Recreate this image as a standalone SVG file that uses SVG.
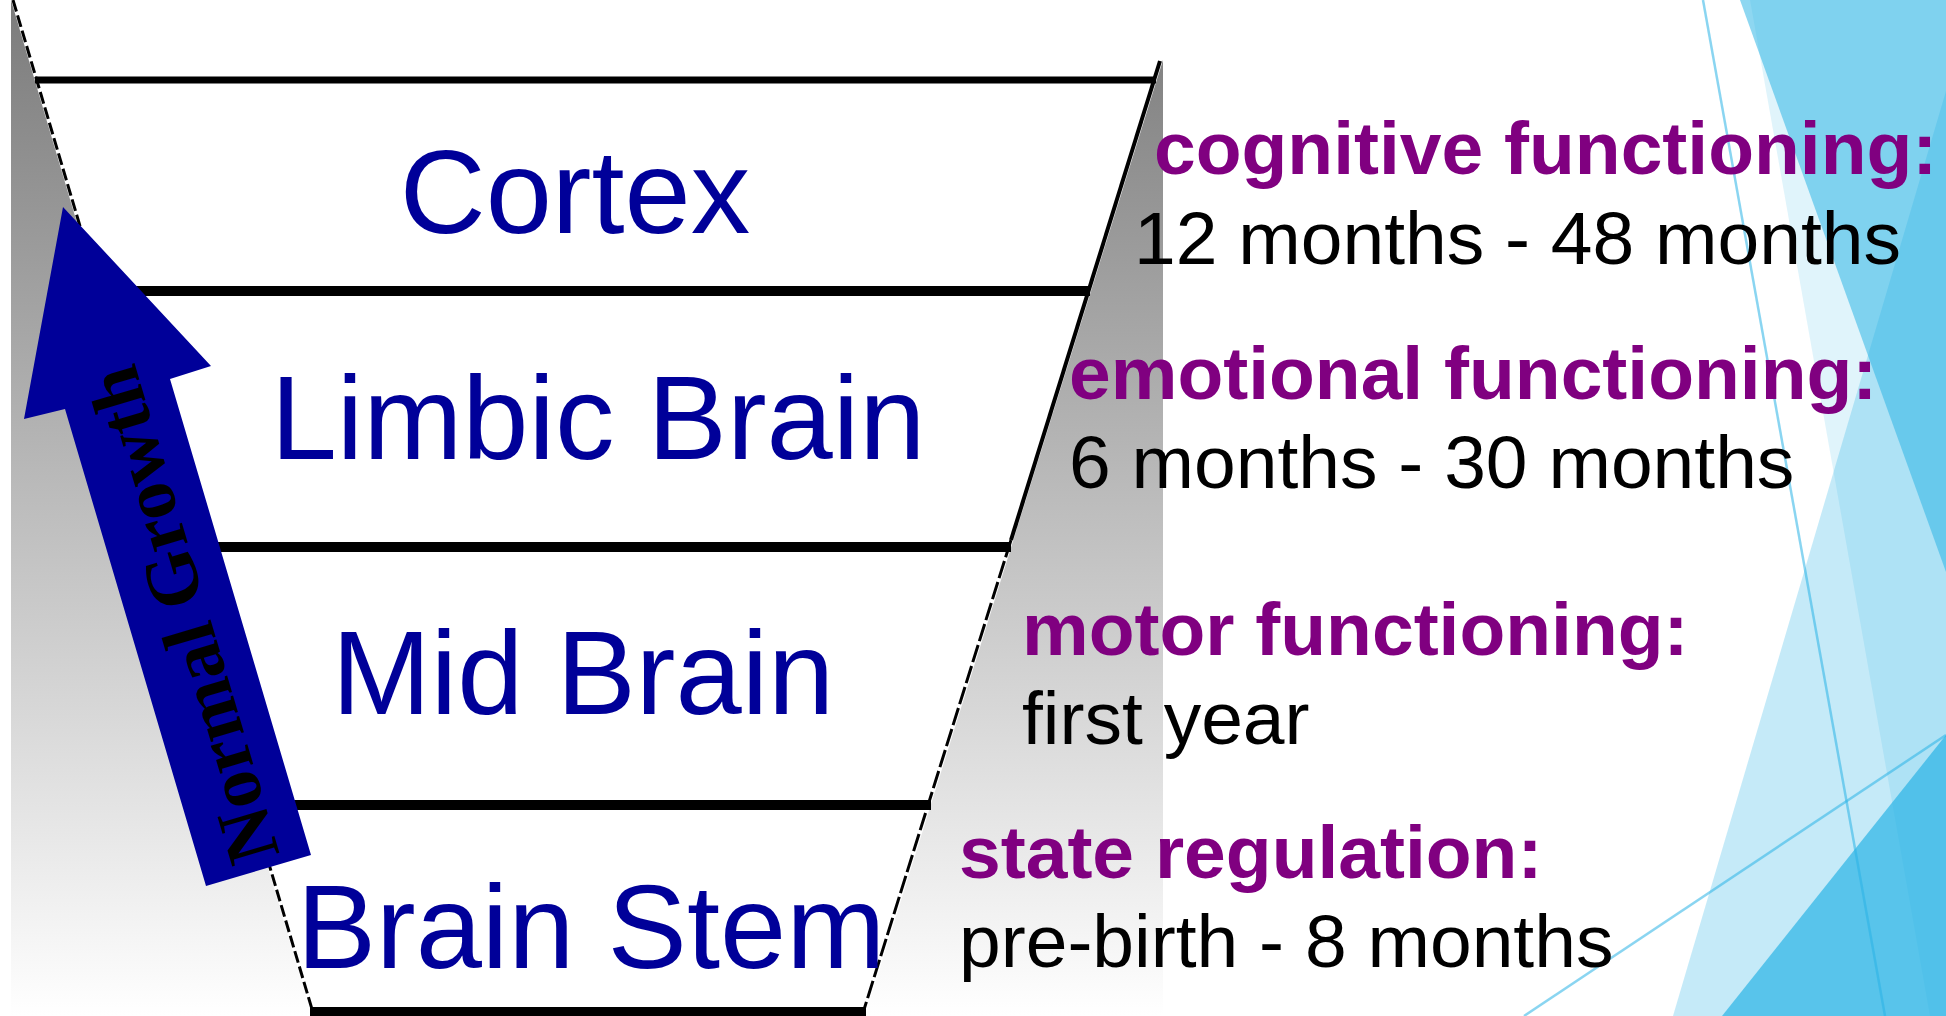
<svg xmlns="http://www.w3.org/2000/svg" width="1946" height="1016" viewBox="0 0 1946 1016">
  <defs>
    <linearGradient id="grayFade" gradientUnits="userSpaceOnUse" x1="0" y1="0" x2="0" y2="1016">
      <stop offset="0" stop-color="#7b7b7b"/>
      <stop offset="1" stop-color="#ffffff"/>
    </linearGradient>
    <style>
      .layer { font-family: "Liberation Sans", Arial, sans-serif; font-size: 119px; fill: #000099; text-anchor: middle; }
      .head { font-family: "Liberation Sans", Arial, sans-serif; font-size: 75px; font-weight: bold; fill: #800080; }
      .age { font-family: "Liberation Sans", Arial, sans-serif; font-size: 75px; fill: #000000; }
      .band { stroke: #000000; stroke-linecap: butt; }
      .deco { fill: #29B3E5; }
      .decoLine { stroke: #29B3E5; stroke-opacity: 0.55; stroke-width: 2.5; fill: none; }
      .edge { stroke: #000000; fill: none; }
    </style>
  </defs>

  <rect x="0" y="0" width="1946" height="1016" fill="#ffffff"/>

  <!-- background decoration (right) -->
  <g id="decoration">
    <polygon class="deco" fill-opacity="0.145" points="1750,0 1946,0 1946,1016 1930,1016"/>
    <polygon class="deco" fill-opacity="0.27" points="1673,1016 1946,91 1946,1016"/>
    <polygon class="deco" fill-opacity="0.53" points="1740,0 1946,0 1946,572"/>
    <polygon class="deco" fill-opacity="0.70" points="1722,1016 1946,735 1946,1016"/>
    <line class="decoLine" x1="1703" y1="0" x2="1885" y2="1016"/>
    <line class="decoLine" x1="1524" y1="1016" x2="1946" y2="735"/>
  </g>

  <!-- funnel -->
  <g id="funnel">
    <polygon fill="url(#grayFade)" points="11,0 312,1016 11,1016"/>
    <polygon fill="url(#grayFade)" points="1163,60 1163,1016 865,1016"/>
    <line class="edge" x1="13" y1="0" x2="314" y2="1016" stroke-width="3" stroke-dasharray="12 4"/>
    <line class="edge" x1="1160" y1="61" x2="1011" y2="540" stroke-width="4"/>
    <line class="edge" x1="1011" y1="540" x2="862" y2="1016" stroke-width="3" stroke-dasharray="18 4"/>
    <line class="band" x1="35" y1="80" x2="1156" y2="80" stroke-width="7"/>
    <line class="band" x1="97" y1="291" x2="1090" y2="291" stroke-width="10"/>
    <line class="band" x1="173" y1="547" x2="1011" y2="547" stroke-width="10"/>
    <line class="band" x1="249" y1="805" x2="931" y2="805" stroke-width="10"/>
    <line class="band" x1="310" y1="1012" x2="866" y2="1012" stroke-width="10"/>
  </g>

  <g id="node-cortex"><text class="layer" x="575" y="233">Cortex</text></g>
  <g id="node-limbic"><text class="layer" x="598" y="459">Limbic Brain</text></g>
  <g id="node-midbrain"><text class="layer" x="583" y="714">Mid Brain</text></g>
  <g id="node-brainstem"><text class="layer" x="591" y="968">Brain Stem</text></g>

  <g id="label-cognitive">
    <text class="head" x="1154" y="174">cognitive functioning:</text>
    <text class="age" x="1134" y="264">12 months - 48 months</text>
  </g>
  <g id="label-emotional">
    <text class="head" x="1069" y="399">emotional functioning:</text>
    <text class="age" x="1069" y="488">6 months - 30 months</text>
  </g>
  <g id="label-motor">
    <text class="head" x="1022" y="655">motor functioning:</text>
    <text class="age" x="1022" y="744">first year</text>
  </g>
  <g id="label-state">
    <text class="head" x="959" y="878">state regulation:</text>
    <text class="age" x="959" y="967">pre-birth - 8 months</text>
  </g>

  <g id="connectors">
    <g id="arrow-normal-growth">
      <polygon fill="#000099" points="63,207 211,366 170,379 311,855 206,886 65,409 24,419"/>
      <text transform="translate(207,608) rotate(-106.5)" x="0" y="0" text-anchor="middle" font-family="'Liberation Serif', 'Times New Roman', serif" font-weight="bold" font-size="75" fill="#000000">Normal Growth</text>
    </g>
  </g>
</svg>
